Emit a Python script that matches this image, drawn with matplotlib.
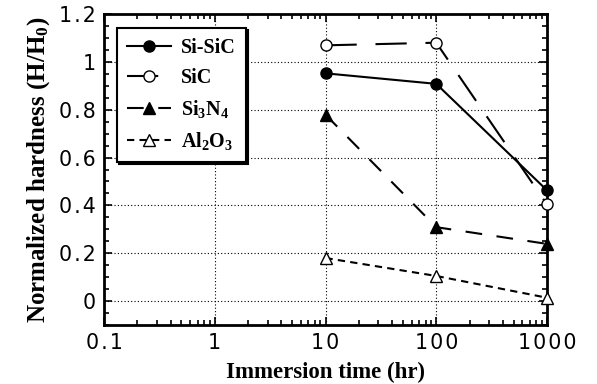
import matplotlib
matplotlib.use("Agg")
import matplotlib.pyplot as plt
from matplotlib.ticker import FixedLocator, FixedFormatter, MultipleLocator, LogLocator, NullFormatter

plt.rcParams['mathtext.fontset'] = 'custom'
plt.rcParams['mathtext.rm'] = 'Liberation Serif:bold'
plt.rcParams['mathtext.bf'] = 'Liberation Serif:bold'
plt.rcParams['mathtext.default'] = 'rm'

time_hr = [10, 100, 1000]
si_sic = [0.952, 0.908, 0.463]
sic = [1.069, 1.080, 0.404]
si3n4 = [0.779, 0.309, 0.239]
al2o3 = [0.180, 0.105, 0.014]

x_ticks = [0.1, 1, 10, 100, 1000]
x_tick_labels = ['0.1', '1', '10', '100', '1000']
y_ticks = [0, 0.2, 0.4, 0.6, 0.8, 1.0, 1.2]
y_tick_labels = ['0', '0.2', '0.4', '0.6', '0.8', '1', '1.2']


def spaced(s):
    # wide letter spacing as in the reference's tick font
    return '\u200a'.join(s)


fig = plt.figure(figsize=(5.97, 3.84), dpi=100)
ax = fig.add_axes([104/597, 1 - 325/384, 443/597, 311/384])

lw = 1.5
ms = 8
ax.plot(time_hr, si_sic, color='black', lw=lw, ls='-', marker='o', ms=ms,
        mfc='black', mec='black', label='Si-SiC', zorder=5, clip_on=False)
ax.plot(time_hr, sic, color='black', lw=lw, ls=(0, (15, 9)), marker='o', ms=ms,
        mfc='white', mec='black', mew=1, label='SiC', zorder=5, clip_on=False)
ax.plot(time_hr, si3n4, color='black', lw=lw, ls=(0, (8, 7)), marker='^', ms=ms,
        mfc='black', mec='black', label='Si$_3$N$_4$', zorder=5, clip_on=False)
ax.plot(time_hr, al2o3, color='black', lw=lw, ls=(0, (3.5, 2.5)), marker='^', ms=ms,
        mfc='white', mec='black', mew=1, label='Al$_2$O$_3$', zorder=5, clip_on=False)

ax.set_xscale('log')
ax.set_xlim(0.1, 1000)
ax.set_ylim(-0.1, 1.2)

ax.xaxis.set_major_locator(FixedLocator(x_ticks))
ax.xaxis.set_major_formatter(FixedFormatter([spaced(t) for t in x_tick_labels]))
ax.xaxis.set_minor_locator(LogLocator(base=10, subs=range(2, 10), numticks=20))
ax.xaxis.set_minor_formatter(NullFormatter())
ax.yaxis.set_major_locator(FixedLocator(y_ticks))
ax.yaxis.set_major_formatter(FixedFormatter([spaced(t) for t in y_tick_labels]))
ax.yaxis.set_minor_locator(MultipleLocator(0.05))

ax.tick_params(which='both', direction='in', top=True, right=True, width=1.2)
ax.tick_params(which='major', length=6, pad=6)
ax.tick_params(which='minor', length=3.5)
for lab in ax.get_xticklabels() + ax.get_yticklabels():
    lab.set_fontfamily('DejaVu Sans')
    lab.set_fontsize(14.8)
for s in ax.spines.values():
    s.set_linewidth(2)

ax.grid(True, which='major', color='black', ls=(0, (1, 2)), lw=0.8)

ax.set_xlabel('Immersion time (hr)', fontfamily='Liberation Serif', fontweight='bold',
              fontsize=16.5, labelpad=6)
ax.set_ylabel('Normalized hardness (H/H$_0$)', fontfamily='Liberation Serif', fontweight='bold',
              fontsize=18, labelpad=5)

leg = ax.legend(loc='upper left', bbox_to_anchor=(0.029, 0.955), frameon=True, fancybox=False,
                shadow={'color': 'black', 'alpha': 1, 'ox': 1.5, 'oy': -1.5},
                edgecolor='black', framealpha=1,
                prop={'family': 'Liberation Serif', 'weight': 'bold', 'size': 14.5},
                handlelength=2.2, handletextpad=0.5, labelspacing=0.5, borderpad=0.5,
                borderaxespad=0)
leg.get_frame().set_linewidth(1.5)
leg.set_zorder(10)

fig.savefig('out.png', dpi=100)
